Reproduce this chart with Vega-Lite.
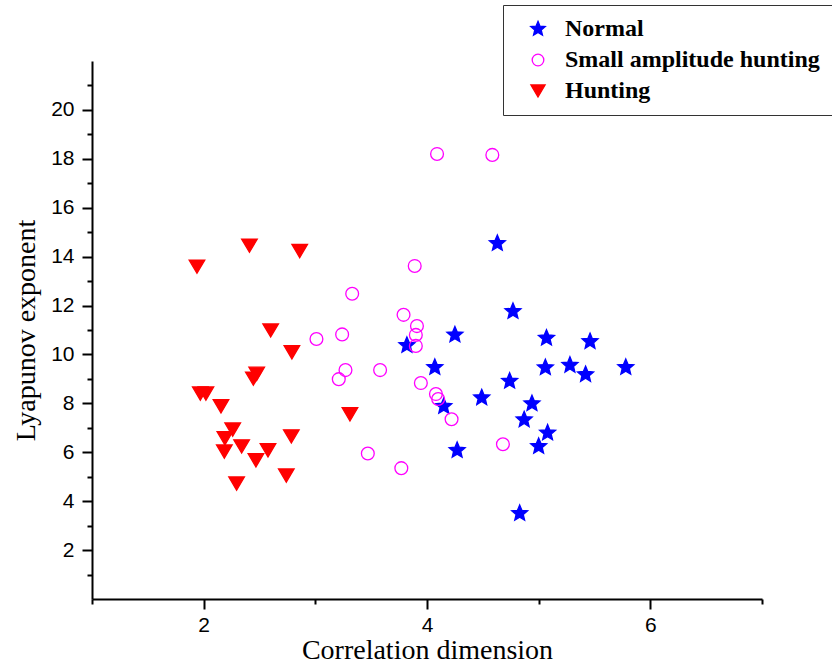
{
  "$schema": "https://vega.github.io/schema/vega-lite/v6.json",
  "width": 670,
  "height": 538,
  "autosize": {"type": "none"},
  "padding": {"left": 92, "top": 61, "right": 70, "bottom": 65},
  "background": "white",
  "config": {"view": {"stroke": null}},
  "data": {"values": [
    {"x": 4.63, "y": 14.54, "cls": "Normal"},
    {"x": 4.77, "y": 11.76, "cls": "Normal"},
    {"x": 4.25, "y": 10.80, "cls": "Normal"},
    {"x": 5.07, "y": 10.67, "cls": "Normal"},
    {"x": 5.46, "y": 10.53, "cls": "Normal"},
    {"x": 3.82, "y": 10.37, "cls": "Normal"},
    {"x": 4.07, "y": 9.47, "cls": "Normal"},
    {"x": 5.06, "y": 9.46, "cls": "Normal"},
    {"x": 5.28, "y": 9.56, "cls": "Normal"},
    {"x": 5.42, "y": 9.18, "cls": "Normal"},
    {"x": 5.78, "y": 9.47, "cls": "Normal"},
    {"x": 4.74, "y": 8.91, "cls": "Normal"},
    {"x": 4.49, "y": 8.23, "cls": "Normal"},
    {"x": 4.94, "y": 7.99, "cls": "Normal"},
    {"x": 4.15, "y": 7.88, "cls": "Normal"},
    {"x": 4.87, "y": 7.33, "cls": "Normal"},
    {"x": 5.08, "y": 6.79, "cls": "Normal"},
    {"x": 5.00, "y": 6.24, "cls": "Normal"},
    {"x": 4.27, "y": 6.08, "cls": "Normal"},
    {"x": 4.83, "y": 3.50, "cls": "Normal"},
    {"x": 4.09, "y": 18.20, "cls": "Small amplitude hunting"},
    {"x": 4.585, "y": 18.16, "cls": "Small amplitude hunting"},
    {"x": 3.89, "y": 13.62, "cls": "Small amplitude hunting"},
    {"x": 3.33, "y": 12.48, "cls": "Small amplitude hunting"},
    {"x": 3.79, "y": 11.62, "cls": "Small amplitude hunting"},
    {"x": 3.91, "y": 11.16, "cls": "Small amplitude hunting"},
    {"x": 3.90, "y": 10.80, "cls": "Small amplitude hunting"},
    {"x": 3.24, "y": 10.82, "cls": "Small amplitude hunting"},
    {"x": 3.01, "y": 10.63, "cls": "Small amplitude hunting"},
    {"x": 3.90, "y": 10.35, "cls": "Small amplitude hunting"},
    {"x": 3.27, "y": 9.36, "cls": "Small amplitude hunting"},
    {"x": 3.58, "y": 9.36, "cls": "Small amplitude hunting"},
    {"x": 3.21, "y": 8.99, "cls": "Small amplitude hunting"},
    {"x": 3.945, "y": 8.83, "cls": "Small amplitude hunting"},
    {"x": 4.08, "y": 8.38, "cls": "Small amplitude hunting"},
    {"x": 4.10, "y": 8.18, "cls": "Small amplitude hunting"},
    {"x": 4.22, "y": 7.35, "cls": "Small amplitude hunting"},
    {"x": 4.68, "y": 6.33, "cls": "Small amplitude hunting"},
    {"x": 3.47, "y": 5.95, "cls": "Small amplitude hunting"},
    {"x": 3.77, "y": 5.35, "cls": "Small amplitude hunting"},
    {"x": 1.94, "y": 13.59, "cls": "Hunting"},
    {"x": 2.41, "y": 14.45, "cls": "Hunting"},
    {"x": 2.86, "y": 14.23, "cls": "Hunting"},
    {"x": 2.60, "y": 10.98, "cls": "Hunting"},
    {"x": 2.79, "y": 10.09, "cls": "Hunting"},
    {"x": 2.475, "y": 9.21, "cls": "Hunting"},
    {"x": 2.445, "y": 9.01, "cls": "Hunting"},
    {"x": 1.97, "y": 8.40, "cls": "Hunting"},
    {"x": 2.02, "y": 8.40, "cls": "Hunting"},
    {"x": 2.155, "y": 7.88, "cls": "Hunting"},
    {"x": 3.31, "y": 7.55, "cls": "Hunting"},
    {"x": 2.26, "y": 6.93, "cls": "Hunting"},
    {"x": 2.19, "y": 6.57, "cls": "Hunting"},
    {"x": 2.785, "y": 6.65, "cls": "Hunting"},
    {"x": 2.34, "y": 6.24, "cls": "Hunting"},
    {"x": 2.185, "y": 6.03, "cls": "Hunting"},
    {"x": 2.576, "y": 6.08, "cls": "Hunting"},
    {"x": 2.468, "y": 5.67, "cls": "Hunting"},
    {"x": 2.74, "y": 5.05, "cls": "Hunting"},
    {"x": 2.295, "y": 4.72, "cls": "Hunting"}
  ]},
  "layer": [
    {
      "mark": {"type": "point", "opacity": 0},
      "encoding": {
        "x": {"field": "x", "type": "quantitative", "scale": {"domain": [1, 7], "nice": false, "zero": false},
          "axis": {"orient": "bottom", "values": [1, 3, 5, 7], "labels": false, "domain": false, "grid": false, "title": null, "tickSize": 5, "tickWidth": 2, "tickColor": "black"}},
        "y": {"field": "y", "type": "quantitative", "scale": {"domain": [0, 22], "nice": false, "zero": false},
          "axis": {"orient": "left", "values": [1, 3, 5, 7, 9, 11, 13, 15, 17, 19, 21], "labels": false, "domain": false, "grid": false, "title": null, "tickSize": 5, "tickWidth": 2, "tickColor": "black"}}
      }
    },
    {
      "mark": {"type": "point", "filled": false, "strokeWidth": 1.3, "opacity": 1, "size": 400},
      "encoding": {
        "x": {"field": "x", "type": "quantitative", "scale": {"domain": [1, 7], "nice": false, "zero": false},
          "axis": {"orient": "bottom", "values": [2, 4, 6], "grid": false, "title": "Correlation dimension", "tickSize": 10, "tickWidth": 2, "tickColor": "black", "domainColor": "black", "domainWidth": 2, "labelFont": "Liberation Sans", "labelFontSize": 21, "labelColor": "black", "labelPadding": 5, "titleFont": "Liberation Serif", "titleFontSize": 28, "titleFontWeight": "normal", "titleColor": "black", "titlePadding": 1}},
        "y": {"field": "y", "type": "quantitative", "scale": {"domain": [0, 22], "nice": false, "zero": false},
          "axis": {"orient": "left", "values": [2, 4, 6, 8, 10, 12, 14, 16, 18, 20], "grid": false, "title": "Lyapunov exponent", "tickSize": 10, "tickWidth": 2, "tickColor": "black", "domainColor": "black", "domainWidth": 2, "labelFont": "Liberation Sans", "labelFontSize": 21, "labelColor": "black", "labelPadding": 8, "titleFont": "Liberation Serif", "titleFontSize": 28, "titleFontWeight": "normal", "titleColor": "black", "titlePadding": 10}},
        "color": {"field": "cls", "type": "nominal",
          "scale": {"domain": ["Normal", "Small amplitude hunting", "Hunting"], "range": ["#0000ff", "#ff00ff", "#ff0000"]},
          "legend": {"title": null, "orient": "none", "legendX": 411, "legendY": -56, "strokeColor": "#333333", "fillColor": "white", "padding": 12, "rowPadding": 7, "symbolOffset": 11, "labelOffset": 15, "labelLimit": 0, "symbolSize": 330, "symbolStrokeWidth": 1.3, "labelFont": "Liberation Serif", "labelFontWeight": "bold", "labelFontSize": 24, "labelColor": "black"}},
        "fill": {"field": "cls", "type": "nominal",
          "scale": {"domain": ["Normal", "Small amplitude hunting", "Hunting"], "range": ["#0000ff", "transparent", "#ff0000"]}},
        "shape": {"field": "cls", "type": "nominal",
          "scale": {"domain": ["Normal", "Small amplitude hunting", "Hunting"], "range": [
            "M0,-0.84L0.222,-0.306L0.799,-0.26L0.36,0.117L0.494,0.68L0,0.378L-0.494,0.68L-0.36,0.117L-0.799,-0.26L-0.222,-0.306Z",
            "M0.64,0A0.64,0.64,0,1,1,-0.64,0A0.64,0.64,0,1,1,0.64,0Z",
            "M-0.78,-0.66L0.78,-0.66L0,0.66Z"]}}
      }
    }
  ],
  "resolve": {"axis": {"x": "independent", "y": "independent"}}
}
